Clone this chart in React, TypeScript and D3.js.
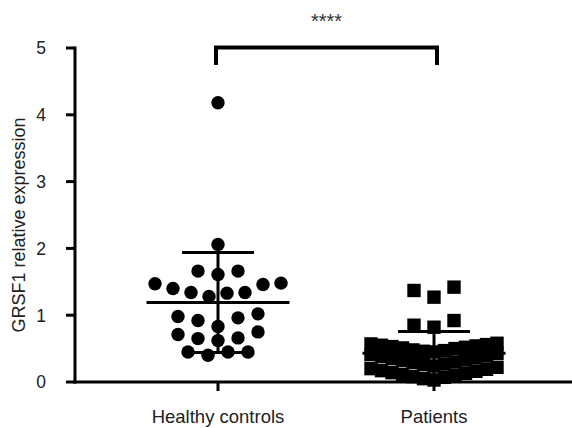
import React, { useEffect, useRef } from 'react';
import * as d3 from 'd3';

// groups on the x axis
const categories = ['Healthy controls', 'Patients'];

// GRSF1 relative expression
const healthyValues = [
  4.18, 2.06,
  1.66, 1.61, 1.66,
  1.47, 1.40, 1.34, 1.28, 1.33, 1.34, 1.46, 1.48,
  0.98, 0.92, 0.96, 1.02,
  0.75, 0.71, 0.83, 0.66, 0.62, 0.65,
  0.45, 0.40, 0.45, 0.45,
];

const patientValues = [
  1.42, 1.37, 1.27,
  0.92, 0.85, 0.82,
  0.58, 0.57, 0.56, 0.55, 0.54, 0.53, 0.52, 0.51, 0.50, 0.48, 0.47, 0.46, 0.45,
  0.43, 0.41, 0.39, 0.38, 0.36, 0.35, 0.33, 0.32, 0.30, 0.29, 0.27, 0.26, 0.24,
  0.22, 0.20, 0.19, 0.17, 0.16, 0.14, 0.13, 0.11, 0.10, 0.08, 0.07, 0.05, 0.03,
];

const yTicks = [0, 1, 2, 3, 4, 5];
const yTitle = 'GRSF1 relative expression';
const sigLabel = '****';

// Prism-like scatter layout: values are grouped in rows, spread centre-out
function layoutRows(values: number[], rowH: number, maxCols: number, maxHalf: number, maxStep: number) {
  const sorted = values.slice().sort((a, b) => a - b);
  const rows: number[][] = [];
  sorted.forEach(v => {
    const row = rows[rows.length - 1];
    if (!row || v > row[0] + rowH + 1e-9) rows.push([v]);
    else row.push(v);
  });
  const out: { value: number; dx: number }[] = [];
  rows.forEach(row => {
    const cols = Math.min(row.length, maxCols);
    const step = cols > 1 ? Math.min(maxStep, (2 * maxHalf) / (cols - 1)) : 0;
    const slots = d3.range(cols).map(k => k - (cols - 1) / 2)
      .sort((a, b) => Math.abs(a) - Math.abs(b) || a - b);
    row.forEach((v, i) => out.push({ value: v, dx: slots[i % cols] * step }));
  });
  return out;
}

function App() {
  const ref = useRef<SVGSVGElement>(null);

  useEffect(() => {
    const svgWidth = 572, svgHeight = 428;
    const axisLeft = 75, axisRight = 572;
    const font = '"Liberation Sans", Arial, Helvetica, sans-serif';

    const svg = d3.select(ref.current);
    svg.selectAll('*').remove();
    svg.attr('width', svgWidth).attr('height', svgHeight);

    const y = d3.scaleLinear().domain([0, 5]).range([382, 48]);
    const x = d3.scalePoint<string>().domain(categories).range([218, 434]);

    // y axis
    svg.append('line')
      .attr('x1', axisLeft).attr('x2', axisLeft)
      .attr('y1', y(5) - 1.5).attr('y2', y(0) + 1.5)
      .attr('stroke', '#000').attr('stroke-width', 3);
    yTicks.forEach(t => {
      svg.append('line')
        .attr('x1', axisLeft - 9).attr('x2', axisLeft)
        .attr('y1', y(t)).attr('y2', y(t))
        .attr('stroke', '#000').attr('stroke-width', 3);
      svg.append('text')
        .text(t)
        .attr('x', 46).attr('y', y(t))
        .attr('dy', '0.36em')
        .attr('text-anchor', 'end')
        .attr('font-family', font).attr('font-size', '17.5px')
        .attr('fill', '#222');
    });

    svg.append('text')
      .text(yTitle)
      .attr('transform', `translate(25,${(y(5) + y(0)) / 2 + 10}) rotate(-90)`)
      .attr('text-anchor', 'middle')
      .attr('font-family', font).attr('font-size', '18px')
      .attr('fill', '#222');

    // x axis
    svg.append('line')
      .attr('x1', axisLeft - 1.5).attr('x2', axisRight)
      .attr('y1', y(0)).attr('y2', y(0))
      .attr('stroke', '#000').attr('stroke-width', 3);
    categories.forEach(c => {
      svg.append('line')
        .attr('x1', x(c)!).attr('x2', x(c)!)
        .attr('y1', y(0)).attr('y2', y(0) + 9)
        .attr('stroke', '#000').attr('stroke-width', 3);
      svg.append('text')
        .text(c)
        .attr('x', x(c)!).attr('y', 423)
        .attr('text-anchor', 'middle')
        .attr('font-family', font).attr('font-size', '18.5px')
        .attr('fill', '#222');
    });

    // points
    const healthy = layoutRows(healthyValues, 0.2, 13, 63, 20);
    const patients = layoutRows(patientValues, 0.2, 13, 63, 20);
    const r = 6.7;

    svg.append('g').selectAll('circle')
      .data(healthy)
      .enter()
      .append('circle')
      .attr('cx', d => x(categories[0])! + d.dx)
      .attr('cy', d => y(d.value))
      .attr('r', r)
      .attr('fill', '#000');

    svg.append('g').selectAll('rect')
      .data(patients)
      .enter()
      .append('rect')
      .attr('x', d => x(categories[1])! + d.dx - r)
      .attr('y', d => y(d.value) - r)
      .attr('width', 2 * r).attr('height', 2 * r)
      .attr('fill', '#000');

    // mean +/- SD
    [healthyValues, patientValues].forEach((vals, i) => {
      const cx = x(categories[i])!;
      const m = d3.mean(vals)!;
      const sd = d3.deviation(vals)!;
      const g = svg.append('g').attr('stroke', '#000').attr('stroke-width', 3);
      g.append('line').attr('x1', cx).attr('x2', cx).attr('y1', y(m + sd)).attr('y2', y(Math.max(0, m - sd)));
      g.append('line').attr('x1', cx - 71.5).attr('x2', cx + 71.5).attr('y1', y(m)).attr('y2', y(m));
      g.append('line').attr('x1', cx - 36).attr('x2', cx + 36).attr('y1', y(m + sd)).attr('y2', y(m + sd));
      g.append('line').attr('x1', cx - 36).attr('x2', cx + 36).attr('y1', y(m - sd)).attr('y2', y(m - sd));
    });

    // significance bracket
    const x1 = x(categories[0])! - 2, x2 = x(categories[1])! + 3;
    svg.append('path')
      .attr('d', `M${x1},65V47.5H${x2}V65`)
      .attr('fill', 'none')
      .attr('stroke', '#000').attr('stroke-width', 4);
    svg.append('text')
      .text(sigLabel)
      .attr('x', (x1 + x2) / 2).attr('y', 28)
      .attr('text-anchor', 'middle')
      .attr('font-family', font).attr('font-size', '20px')
      .attr('fill', '#333');
  }, []);

  return (
    <div>
      <style>{'body{margin:0}'}</style>
      <svg ref={ref} style={{ display: 'block' }} />
    </div>
  );
}

export default App;
